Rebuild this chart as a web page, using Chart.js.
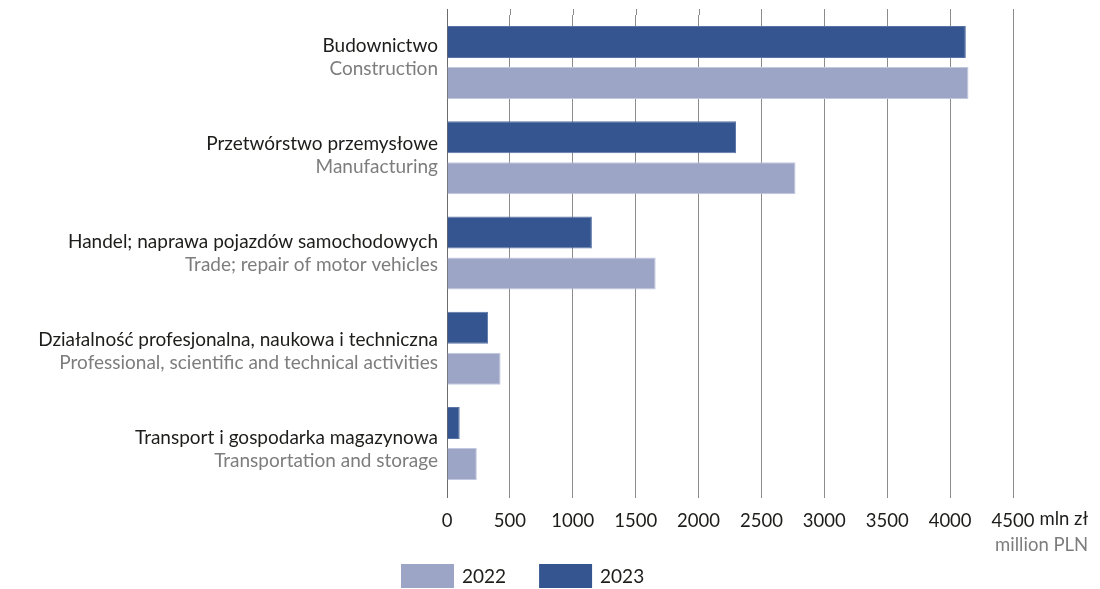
<!DOCTYPE html>
<html>
<head>
<meta charset="utf-8">
<script src="https://cdn.jsdelivr.net/npm/chart.js@4.4.1/dist/chart.umd.min.js"></script>
<style>
  html, body { margin: 0; padding: 0; background: #fff; }
  #wrap { width: 1100px; height: 589px; position: relative; }
</style>
</head>
<body>
<div id="wrap"><canvas id="chart"></canvas></div>
<script>
// categories (Polish / English)
var categoriesPl = [
  "Budownictwo",
  "Przetwórstwo przemysłowe",
  "Handel; naprawa pojazdów samochodowych",
  "Działalność profesjonalna, naukowa i techniczna",
  "Transport i gospodarka magazynowa"
];
var categoriesEn = [
  "Construction",
  "Manufacturing",
  "Trade; repair of motor vehicles",
  "Professional, scientific and technical activities",
  "Transportation and storage"
];
// mln zł
var values2023 = [4125, 2298, 1152, 327, 101];
var values2022 = [4146, 2771, 1659, 426, 237];
var xMin = 0, xMax = 4500, xStep = 500;
var unitPl = "mln zł";
var unitEn = "million PLN";

var FONT = "Lato, 'Open Sans', sans-serif";
var DARK = "#34558f";
var LIGHT = "#9da5c6";
var TXT = "#1d1d1b";
var GREY = "#7d7d7d";
var TICK_LEN = 7, TICK_PAD = 12;

// two-colour category labels, drawn at the y scale's pixels
var catLabels = {
  id: "catLabels",
  afterDraw: function(chart) {
    var ctx = chart.ctx, y = chart.scales.y, area = chart.chartArea;
    ctx.save();
    ctx.font = "19px " + FONT;
    ctx.textAlign = "right";
    ctx.textBaseline = "alphabetic";
    for (var i = 0; i < categoriesPl.length; i++) {
      var base = y.getPixelForValue(i) - 11 + 2.8 * i;
      ctx.fillStyle = TXT;
      ctx.fillText(categoriesPl[i], area.left - 9, base);
      ctx.fillStyle = GREY;
      ctx.fillText(categoriesEn[i], area.left - 9, base + 23.5);
    }
    ctx.restore();
  }
};

// unit after the last tick, grid stubs above the plot, legend
var extras = {
  id: "extras",
  beforeDatasetsDraw: function(chart) {
    var ctx = chart.ctx, x = chart.scales.x, area = chart.chartArea;
    ctx.save();
    ctx.lineWidth = 1;
    x.ticks.forEach(function(t, i) {
      var px = Math.round(x.getPixelForValue(t.value)) + 0.5;
      ctx.strokeStyle = i === 0 ? "#6b6b6b" : "#8c8c8c";
      ctx.beginPath();
      ctx.moveTo(px, 9);
      ctx.lineTo(px, area.top);
      ctx.stroke();
    });
    ctx.restore();
  },
  afterDraw: function(chart) {
    var ctx = chart.ctx, x = chart.scales.x;
    ctx.save();
    ctx.font = "18.5px " + FONT;
    var lastX = x.getPixelForValue(xMax);
    var w = ctx.measureText(String(xMax)).width;
    var top = x.top + TICK_LEN + TICK_PAD;
    ctx.textBaseline = "top";
    ctx.textAlign = "left";
    ctx.fillStyle = TXT;
    ctx.fillText(unitPl, lastX + w / 2 + 5, top);
    ctx.textAlign = "right";
    ctx.fillStyle = GREY;
    var unitPlW = ctx.measureText(unitPl).width;
    ctx.fillText(unitEn, lastX + w / 2 + 5 + unitPlW, top + 26);

    // legend: 2022 then 2023
    ctx.font = "19px " + FONT;
    var ds = chart.data.datasets.slice().reverse();
    var lx = 401;
    ctx.textAlign = "left";
    ctx.textBaseline = "middle";
    ds.forEach(function(d) {
      ctx.fillStyle = d.backgroundColor;
      ctx.fillRect(lx, 564, 53, 24);
      ctx.fillStyle = TXT;
      ctx.fillText(d.label, lx + 61, 577);
      lx += 61 + ctx.measureText(d.label).width + 33;
    });
    ctx.restore();
  }
};

new Chart(document.getElementById("chart"), {
  type: "bar",
  data: {
    labels: categoriesPl,
    datasets: [
      { label: "2023", data: values2023, backgroundColor: DARK,
        borderColor: "#5b74a8", borderWidth: 1 },
      { label: "2022", data: values2022, backgroundColor: LIGHT,
        borderColor: "#c2c8df", borderWidth: 1 }
    ]
  },
  options: {
    indexAxis: "y",
    responsive: true,
    maintainAspectRatio: false,
    animation: false,
    layout: { padding: { top: 15, left: 10, right: 87, bottom: 0 } },
    categoryPercentage: 0.861,
    barPercentage: 0.78,
    plugins: {
      legend: { display: false },
      tooltip: { enabled: false }
    },
    scales: {
      x: {
        min: xMin, max: xMax,
        afterFit: function(s) { s.height = 98; },
        border: { display: false },
        grid: {
          color: function(c) { return c.index === 0 ? "#6b6b6b" : "#8c8c8c"; },
          lineWidth: 1,
          tickLength: TICK_LEN
        },
        ticks: {
          stepSize: xStep,
          padding: TICK_PAD,
          color: TXT,
          font: { family: FONT, size: 18.5 },
          maxRotation: 0,
          callback: function(v) { return String(v); }
        }
      },
      y: {
        afterFit: function(s) { s.width = 437; },
        border: { display: false },
        grid: { display: false },
        ticks: { display: false }
      }
    }
  },
  plugins: [catLabels, extras]
});
</script>
</body>
</html>
